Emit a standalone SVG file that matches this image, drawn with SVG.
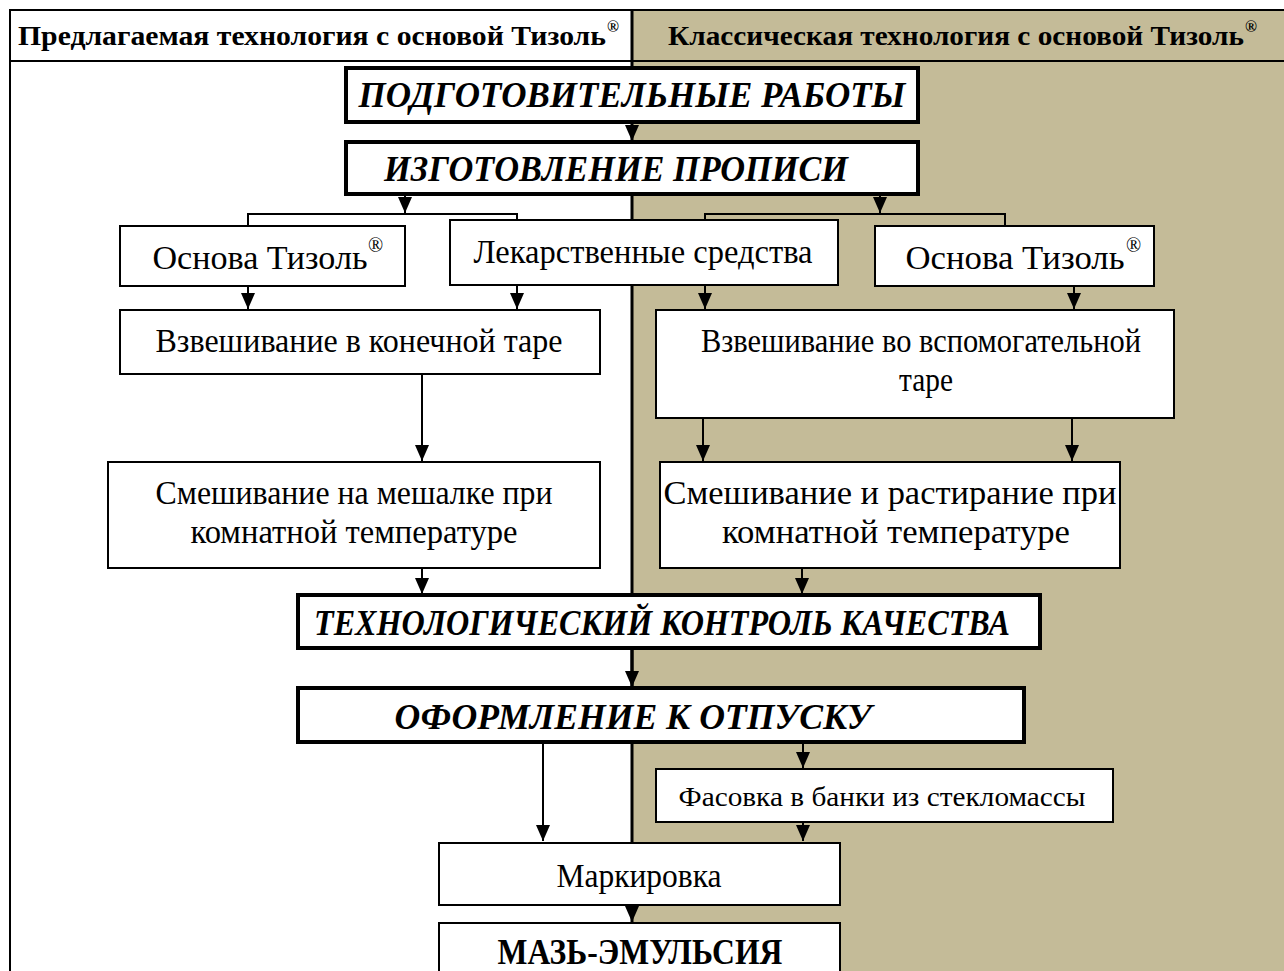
<svg xmlns="http://www.w3.org/2000/svg" width="1284" height="971" viewBox="0 0 1284 971">
<style>
.box{fill:#fff;stroke:#000;stroke-width:2}
.tbox{fill:#fff;stroke:#000;stroke-width:4}
.t{font-family:"Liberation Serif","Times New Roman",serif;font-size:34px;fill:#000;text-anchor:middle}
.hd{font-family:"Liberation Serif","Times New Roman",serif;font-size:27px;font-weight:bold;fill:#000}
.bi{font-family:"Liberation Serif","Times New Roman",serif;font-size:35px;font-weight:bold;font-style:italic;fill:#000;text-anchor:middle}
.b{font-family:"Liberation Serif","Times New Roman",serif;font-size:35px;font-weight:bold;fill:#000;text-anchor:middle}
.sup{font-family:"Liberation Serif","Times New Roman",serif;font-size:20px;fill:#000}
.supb{font-family:"Liberation Serif","Times New Roman",serif;font-size:16px;font-weight:bold;fill:#000}
.c{fill:none;stroke:#000;stroke-width:2}
.ca{fill:none;stroke:#000;stroke-width:2;marker-end:url(#ah)}
.cat{fill:none;stroke:#000;stroke-width:3;marker-end:url(#ah)}
</style>
<defs>
<marker id="ah" viewBox="0 0 16 14" refX="16" refY="7" markerWidth="16" markerHeight="14" markerUnits="userSpaceOnUse" orient="auto">
<path d="M0,0 L16,7 L0,14 z" fill="#000"/>
</marker>
</defs>
<g id="background">
<rect x="0" y="0" width="1284" height="971" fill="#fff"/>
<rect x="632" y="10" width="652" height="961" fill="#C4BB98"/>
<line x1="10" y1="10" x2="1284" y2="10" stroke="#000" stroke-width="2"/>
<line x1="10" y1="61" x2="1284" y2="61" stroke="#000" stroke-width="2"/>
<line x1="10" y1="9" x2="10" y2="971" stroke="#000" stroke-width="2"/>
<line x1="632" y1="9" x2="632" y2="971" stroke="#000" stroke-width="3"/>
</g>
<g id="header-left">
<text class="hd" x="18" y="45" textLength="588" lengthAdjust="spacingAndGlyphs">Предлагаемая технология с основой Тизоль</text>
<text class="supb" x="607" y="32">®</text>
</g>
<g id="header-right">
<text class="hd" x="668" y="45" textLength="576" lengthAdjust="spacingAndGlyphs">Классическая технология с основой Тизоль</text>
<text class="supb" x="1245" y="32">®</text>
</g>
<g id="connectors">
<path class="ca" d="M632,122 V141"/>
<path class="ca" d="M405,194 V213"/>
<path class="ca" d="M880,194 V213"/>
<path class="c" d="M248,226 V214 H517 V220"/>
<path class="c" d="M705,220 V214 H1005 V226"/>
<path class="ca" d="M248,286 V309"/>
<path class="ca" d="M517,285 V309"/>
<path class="ca" d="M705,285 V309"/>
<path class="ca" d="M1074,286 V309"/>
<path class="ca" d="M422,374 V461"/>
<path class="ca" d="M703,418 V461"/>
<path class="ca" d="M1072,418 V461"/>
<path class="ca" d="M422,568 V594"/>
<path class="ca" d="M802,568 V594"/>
<path class="cat" d="M632,648 V687"/>
<path class="ca" d="M543,742 V841"/>
<path class="ca" d="M803,742 V768"/>
<path class="ca" d="M803,822 V841"/>
<path class="ca" d="M632,905 V922"/>
</g>
<g id="n-podgot">
<rect class="tbox" x="346" y="68" width="572" height="54"/>
<text class="bi" x="632" y="107" textLength="547" lengthAdjust="spacingAndGlyphs">ПОДГОТОВИТЕЛЬНЫЕ РАБОТЫ</text>
</g>
<g id="n-izgot">
<rect class="tbox" x="346" y="142" width="572" height="52"/>
<text class="bi" x="616" y="181" textLength="464" lengthAdjust="spacingAndGlyphs">ИЗГОТОВЛЕНИЕ ПРОПИСИ</text>
</g>
<g id="n-osnova-left">
<rect class="box" x="120" y="226" width="285" height="60"/>
<text class="t" x="260" y="269" textLength="215" lengthAdjust="spacingAndGlyphs">Основа Тизоль</text>
<text class="sup" x="368" y="252">®</text>
</g>
<g id="n-lekarstva">
<rect class="box" x="450" y="220" width="388" height="65"/>
<text class="t" x="643" y="263" textLength="339" lengthAdjust="spacingAndGlyphs">Лекарственные средства</text>
</g>
<g id="n-osnova-right">
<rect class="box" x="875" y="226" width="279" height="60"/>
<text class="t" x="1015" y="269" textLength="219" lengthAdjust="spacingAndGlyphs">Основа Тизоль</text>
<text class="sup" x="1126" y="252">®</text>
</g>
<g id="n-vzv-left">
<rect class="box" x="120" y="310" width="480" height="64"/>
<text class="t" x="359" y="352" textLength="407" lengthAdjust="spacingAndGlyphs">Взвешивание в конечной таре</text>
</g>
<g id="n-vzv-right">
<rect class="box" x="656" y="310" width="518" height="108"/>
<text class="t" x="921" y="352" textLength="440" lengthAdjust="spacingAndGlyphs">Взвешивание во вспомогательной</text>
<text class="t" x="926" y="391" textLength="54" lengthAdjust="spacingAndGlyphs">таре</text>
</g>
<g id="n-smesh-left">
<rect class="box" x="108" y="462" width="492" height="106"/>
<text class="t" x="354" y="504" textLength="397" lengthAdjust="spacingAndGlyphs">Смешивание на мешалке при</text>
<text class="t" x="354" y="543" textLength="327" lengthAdjust="spacingAndGlyphs">комнатной температуре</text>
</g>
<g id="n-smesh-right">
<rect class="box" x="660" y="462" width="460" height="106"/>
<text class="t" x="890" y="504" textLength="453" lengthAdjust="spacingAndGlyphs">Смешивание и растирание при</text>
<text class="t" x="896" y="543" textLength="348" lengthAdjust="spacingAndGlyphs">комнатной температуре</text>
</g>
<g id="n-kontrol">
<rect class="tbox" x="298" y="595" width="742" height="53"/>
<text class="bi" x="662" y="635" textLength="696" lengthAdjust="spacingAndGlyphs">ТЕХНОЛОГИЧЕСКИЙ КОНТРОЛЬ КАЧЕСТВА</text>
</g>
<g id="n-oformlenie">
<rect class="tbox" x="298" y="688" width="726" height="54"/>
<text class="bi" x="633" y="729" textLength="477" lengthAdjust="spacingAndGlyphs">ОФОРМЛЕНИЕ К ОТПУСКУ</text>
</g>
<g id="n-fasovka">
<rect class="box" x="656" y="769" width="457" height="53"/>
<text class="t" x="882" y="806" style="font-size:28px" textLength="407" lengthAdjust="spacingAndGlyphs">Фасовка в банки из стекломассы</text>
</g>
<g id="n-markirovka">
<rect class="box" x="439" y="843" width="401" height="62"/>
<text class="t" x="639" y="887" textLength="165" lengthAdjust="spacingAndGlyphs">Маркировка</text>
</g>
<g id="n-maz">
<rect class="box" x="439" y="923" width="401" height="60"/>
<text class="b" x="640" y="964" textLength="285" lengthAdjust="spacingAndGlyphs">МАЗЬ-ЭМУЛЬСИЯ</text>
</g>
</svg>
